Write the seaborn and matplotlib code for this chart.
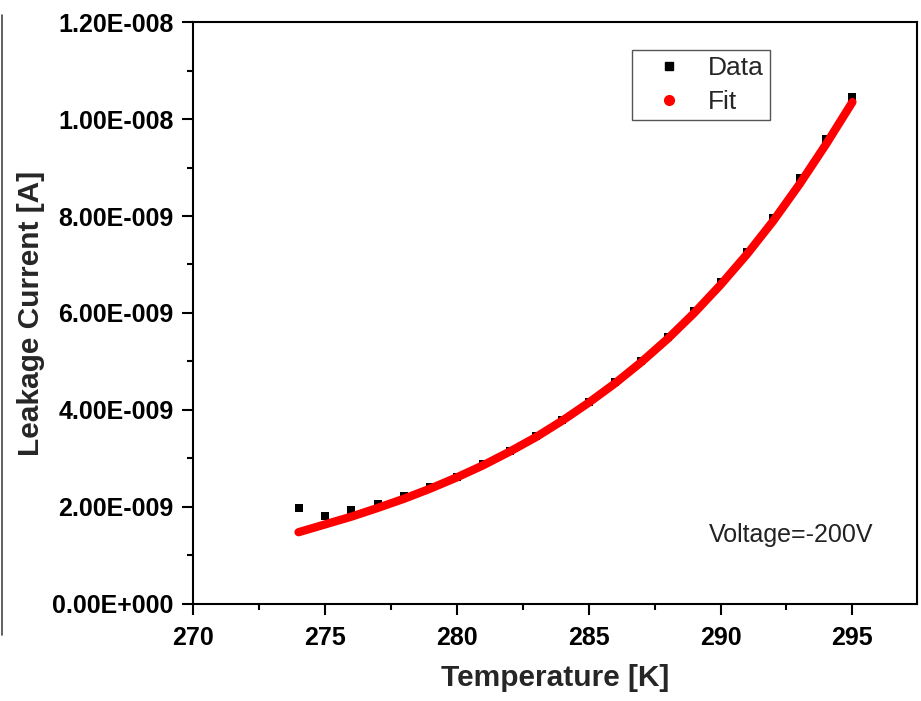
import matplotlib
matplotlib.use("Agg")
import matplotlib.pyplot as plt
from matplotlib.lines import Line2D
from matplotlib.ticker import MultipleLocator, FuncFormatter
import seaborn as sns
import pandas as pd

# Measured leakage current vs temperature, and the fitted curve
temperature = [274, 275, 276, 277, 278, 279, 280, 281, 282, 283, 284,
               285, 286, 287, 288, 289, 290, 291, 292, 293, 294, 295]
current_data = [1.98e-9, 1.81e-9, 1.94e-9, 2.06e-9, 2.22e-9, 2.41e-9, 2.62e-9,
                2.88e-9, 3.16e-9, 3.47e-9, 3.80e-9, 4.17e-9, 4.58e-9, 5.01e-9,
                5.50e-9, 6.05e-9, 6.63e-9, 7.25e-9, 7.95e-9, 8.78e-9, 9.58e-9,
                10.45e-9]
current_fit = [1.48e-9, 1.64e-9, 1.80e-9, 1.98e-9, 2.17e-9, 2.38e-9, 2.61e-9,
               2.86e-9, 3.14e-9, 3.44e-9, 3.78e-9, 4.15e-9, 4.55e-9, 4.99e-9,
               5.47e-9, 6.00e-9, 6.58e-9, 7.21e-9, 7.90e-9, 8.66e-9, 9.48e-9,
               10.35e-9]
legend_labels = ["Data", "Fit"]
annotation = "Voltage=-200V"

sns.set_theme(style="white")
plt.rcParams["font.family"] = ["Liberation Sans", "DejaVu Sans"]

df = pd.DataFrame({"T": temperature, "data": current_data, "fit": current_fit})

fig = plt.figure(figsize=(9.21, 7.01), dpi=100)
ax = fig.add_axes([0.2096, 0.1384, 0.9957 - 0.2096, 0.9686 - 0.1384])

sns.scatterplot(data=df, x="T", y="data", marker="s", s=32, color="black",
                edgecolor="black", linewidth=0, ax=ax, zorder=2)
sns.lineplot(data=df, x="T", y="fit", color="#ff0000", linewidth=6,
             solid_capstyle="round", ax=ax, zorder=3)

ax.set_xlim(270, 297.45)
ax.set_ylim(0, 1.2e-8)

ax.xaxis.set_major_locator(MultipleLocator(5))
ax.xaxis.set_minor_locator(MultipleLocator(2.5))
ax.yaxis.set_major_locator(MultipleLocator(2e-9))
ax.yaxis.set_minor_locator(MultipleLocator(1e-9))


def sci3(v, pos):
    if abs(v) < 1e-30:
        return "0.00E+000"
    exp = 0
    m = v
    while abs(m) >= 10:
        m /= 10
        exp += 1
    while abs(m) < 1:
        m *= 10
        exp -= 1
    sign = "-" if exp < 0 else "+"
    return f"{m:.2f}E{sign}{abs(exp):03d}"


ax.yaxis.set_major_formatter(FuncFormatter(sci3))

for side in ["left", "bottom", "top", "right"]:
    ax.spines[side].set_visible(True)
    ax.spines[side].set_color("black")
    ax.spines[side].set_linewidth(1.5)

ax.tick_params(axis="both", which="both", direction="out", colors="black",
               top=False, right=False, left=True, bottom=True)
ax.tick_params(axis="both", which="major", length=8, width=1.5)
ax.tick_params(axis="both", which="minor", length=4.5, width=1.5)
ax.tick_params(axis="y", which="major", pad=6)
ax.tick_params(axis="x", which="major", pad=8)
for lbl in ax.get_xticklabels() + ax.get_yticklabels():
    lbl.set_fontsize(18)
    lbl.set_fontweight("bold")

ax.set_xlabel("Temperature [K]", fontsize=21.5, fontweight="bold", labelpad=10)
ax.set_ylabel("Leakage Current [A]", fontsize=21.5, fontweight="bold", labelpad=5)

ax.text(0.826, 0.118, annotation, transform=ax.transAxes, fontsize=18,
        ha="center", va="center", color="#222222")

handles = [
    Line2D([], [], marker="s", linestyle="none", color="black", markersize=6),
    Line2D([], [], marker="o", linestyle="none", color="#ff0000", markersize=7),
]
leg = ax.legend(handles, legend_labels, loc="upper left",
                bbox_to_anchor=(0.606, 0.952), fontsize=19, frameon=True,
                fancybox=False, edgecolor="#555555", framealpha=1,
                handletextpad=0.27, borderpad=0.22, labelspacing=0.38,
                handlelength=2.4, borderaxespad=0)
leg.get_frame().set_linewidth(1.0)

# thin border stroke along the left edge of the canvas
fig.add_artist(Line2D([0.0025, 0.0025], [1 - 15 / 701, 1 - 635 / 701],
                      transform=fig.transFigure, color="#444444", linewidth=1.2))

fig.savefig("out.png", dpi=100, facecolor="white")
